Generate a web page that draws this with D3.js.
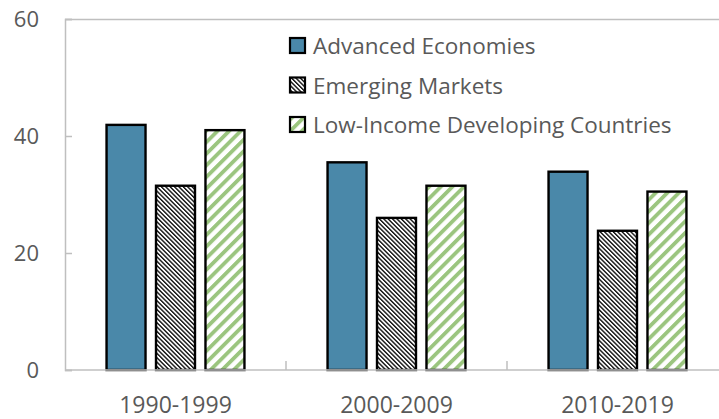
<!DOCTYPE html>
<html>
<head>
<meta charset="utf-8">
<script src="https://cdn.jsdelivr.net/npm/d3@7"></script>
<style>
  body { margin: 0; background: #fff; }
  svg { display: block; font-family: 'Open Sans', 'Noto Sans', sans-serif; }
</style>
</head>
<body>
<div class="chart"></div>
<script>
// DATA
const periods = ['1990-1999', '2000-2009', '2010-2019']
const seriesNames = ['Advanced Economies', 'Emerging Markets', 'Low-Income Developing Countries']
const advanced = [41.9, 35.5, 33.9]
const emerging = [31.5, 26.0, 23.8]
const lowIncome = [41.0, 31.5, 30.5]
const yTicks = [0, 20, 40, 60]

const seriesValues = [advanced, emerging, lowIncome]
const data = periods.map((p, i) => ({
  period: p,
  values: seriesNames.map((s, j) => ({ series: s, value: seriesValues[j][i] }))
}))

// SETUP
const fullWidth = 719
const fullHeight = 419
const margin = { top: 19, left: 65, bottom: 49 }
const plotRight = 728 // plot area runs past the right edge, clipped
const height = fullHeight - margin.top - margin.bottom

const svg = d3.select('.chart')
  .append('svg')
    .attr('width', fullWidth)
    .attr('height', fullHeight)
    .attr('viewBox', `0 0 ${fullWidth} ${fullHeight}`)

// patterns
const defs = svg.append('defs')
const hatch = defs.append('pattern')
  .attr('id', 'hatch')
  .attr('patternUnits', 'userSpaceOnUse')
  .attr('width', 3.1).attr('height', 10)
  .attr('patternTransform', 'rotate(-45)')
hatch.append('rect').attr('width', 3.1).attr('height', 10).attr('fill', '#fff')
hatch.append('rect').attr('width', 1.4).attr('height', 10).attr('fill', '#111')

const stripes = defs.append('pattern')
  .attr('id', 'stripes')
  .attr('patternUnits', 'userSpaceOnUse')
  .attr('width', 8.2).attr('height', 10)
  .attr('patternTransform', 'rotate(45)')
stripes.append('rect').attr('width', 8.2).attr('height', 10).attr('fill', '#fff')
stripes.append('rect').attr('width', 3.8).attr('height', 10).attr('fill', '#9bc57f')

const fills = {
  'Advanced Economies': '#4a88a9',
  'Emerging Markets': 'url(#hatch)',
  'Low-Income Developing Countries': 'url(#stripes)'
}

const g = svg.append('g')
  .attr('transform', `translate(${margin.left}, ${margin.top})`)

// SCALES
const yScale = d3.scaleLinear()
  .domain([0, 60])
  .range([height, 0])

const x0 = d3.scaleBand()
  .domain(periods)
  .range([0, plotRight - margin.left])
  .paddingInner(0.376)
  .paddingOuter(0.188)

const x1 = d3.scaleBand()
  .domain(seriesNames)
  .range([0, x0.bandwidth()])
  .paddingInner(0.212)
  .paddingOuter(0)

// AXES
const axisColor = '#bfbfbf'
const textColor = '#595959'

// top border of plot area
g.append('line')
  .attr('x1', 0).attr('x2', plotRight - margin.left)
  .attr('y1', 0.5).attr('y2', 0.5)
  .attr('stroke', axisColor).attr('stroke-width', 1.5)

const yAxis = d3.axisLeft(yScale)
  .tickValues(yTicks)
  .tickSize(-7)
  .tickPadding(26)
g.append('g')
  .call(yAxis)
  .call(a => {
    a.select('.domain').attr('stroke', axisColor).attr('stroke-width', 1.5)
    a.selectAll('.tick line').attr('stroke', axisColor).attr('stroke-width', 1.5)
    a.selectAll('.tick text')
      .attr('fill', textColor)
      .style('font-size', '22px')
      .style('font-family', "'Open Sans', sans-serif")
  })

// bar groups
const groups = g.selectAll('.group')
  .data(data)
  .enter()
  .append('g')
    .attr('class', 'group')
    .attr('transform', d => `translate(${x0(d.period)}, 0)`)

groups.selectAll('rect')
  .data(d => d.values)
  .enter()
  .append('rect')
    .attr('x', d => x1(d.series))
    .attr('y', d => yScale(d.value))
    .attr('width', x1.bandwidth())
    .attr('height', d => height - yScale(d.value))
    .attr('fill', d => fills[d.series])
    .attr('stroke', '#000')
    .attr('stroke-width', 2.4)

// x axis: ticks between categories, pointing up
const xAxisG = g.append('g')
  .attr('transform', `translate(0, ${height})`)
xAxisG.append('line')
  .attr('x1', 0).attr('x2', plotRight - margin.left)
  .attr('stroke', axisColor).attr('stroke-width', 1.5)
xAxisG.selectAll('.sep')
  .data(periods.slice(1))
  .enter()
  .append('line')
    .attr('x1', d => x0(d) - x0.step() * x0.paddingInner() / 2)
    .attr('x2', d => x0(d) - x0.step() * x0.paddingInner() / 2)
    .attr('y1', 0).attr('y2', -9)
    .attr('stroke', axisColor).attr('stroke-width', 1.5)
xAxisG.selectAll('.lbl')
  .data(periods)
  .enter()
  .append('text')
    .attr('x', d => x0(d) + x0.bandwidth() / 2)
    .attr('y', 43)
    .attr('text-anchor', 'middle')
    .attr('fill', textColor)
    .style('font-size', '23px')
    .text(d => d)

// LEGEND
const legend = svg.append('g')
  .attr('transform', 'translate(290, 38)')
const item = legend.selectAll('.item')
  .data(seriesNames)
  .enter()
  .append('g')
    .attr('transform', (d, i) => `translate(0, ${i * 39.5})`)
item.append('rect')
  .attr('width', 15).attr('height', 15)
  .attr('fill', d => fills[d])
  .attr('stroke', '#000')
  .attr('stroke-width', 2.2)
item.append('text')
  .attr('x', 23)
  .attr('y', 16)
  .attr('fill', textColor)
  .style('font-size', '22.5px')
  .text(d => d)
</script>
</body>
</html>
